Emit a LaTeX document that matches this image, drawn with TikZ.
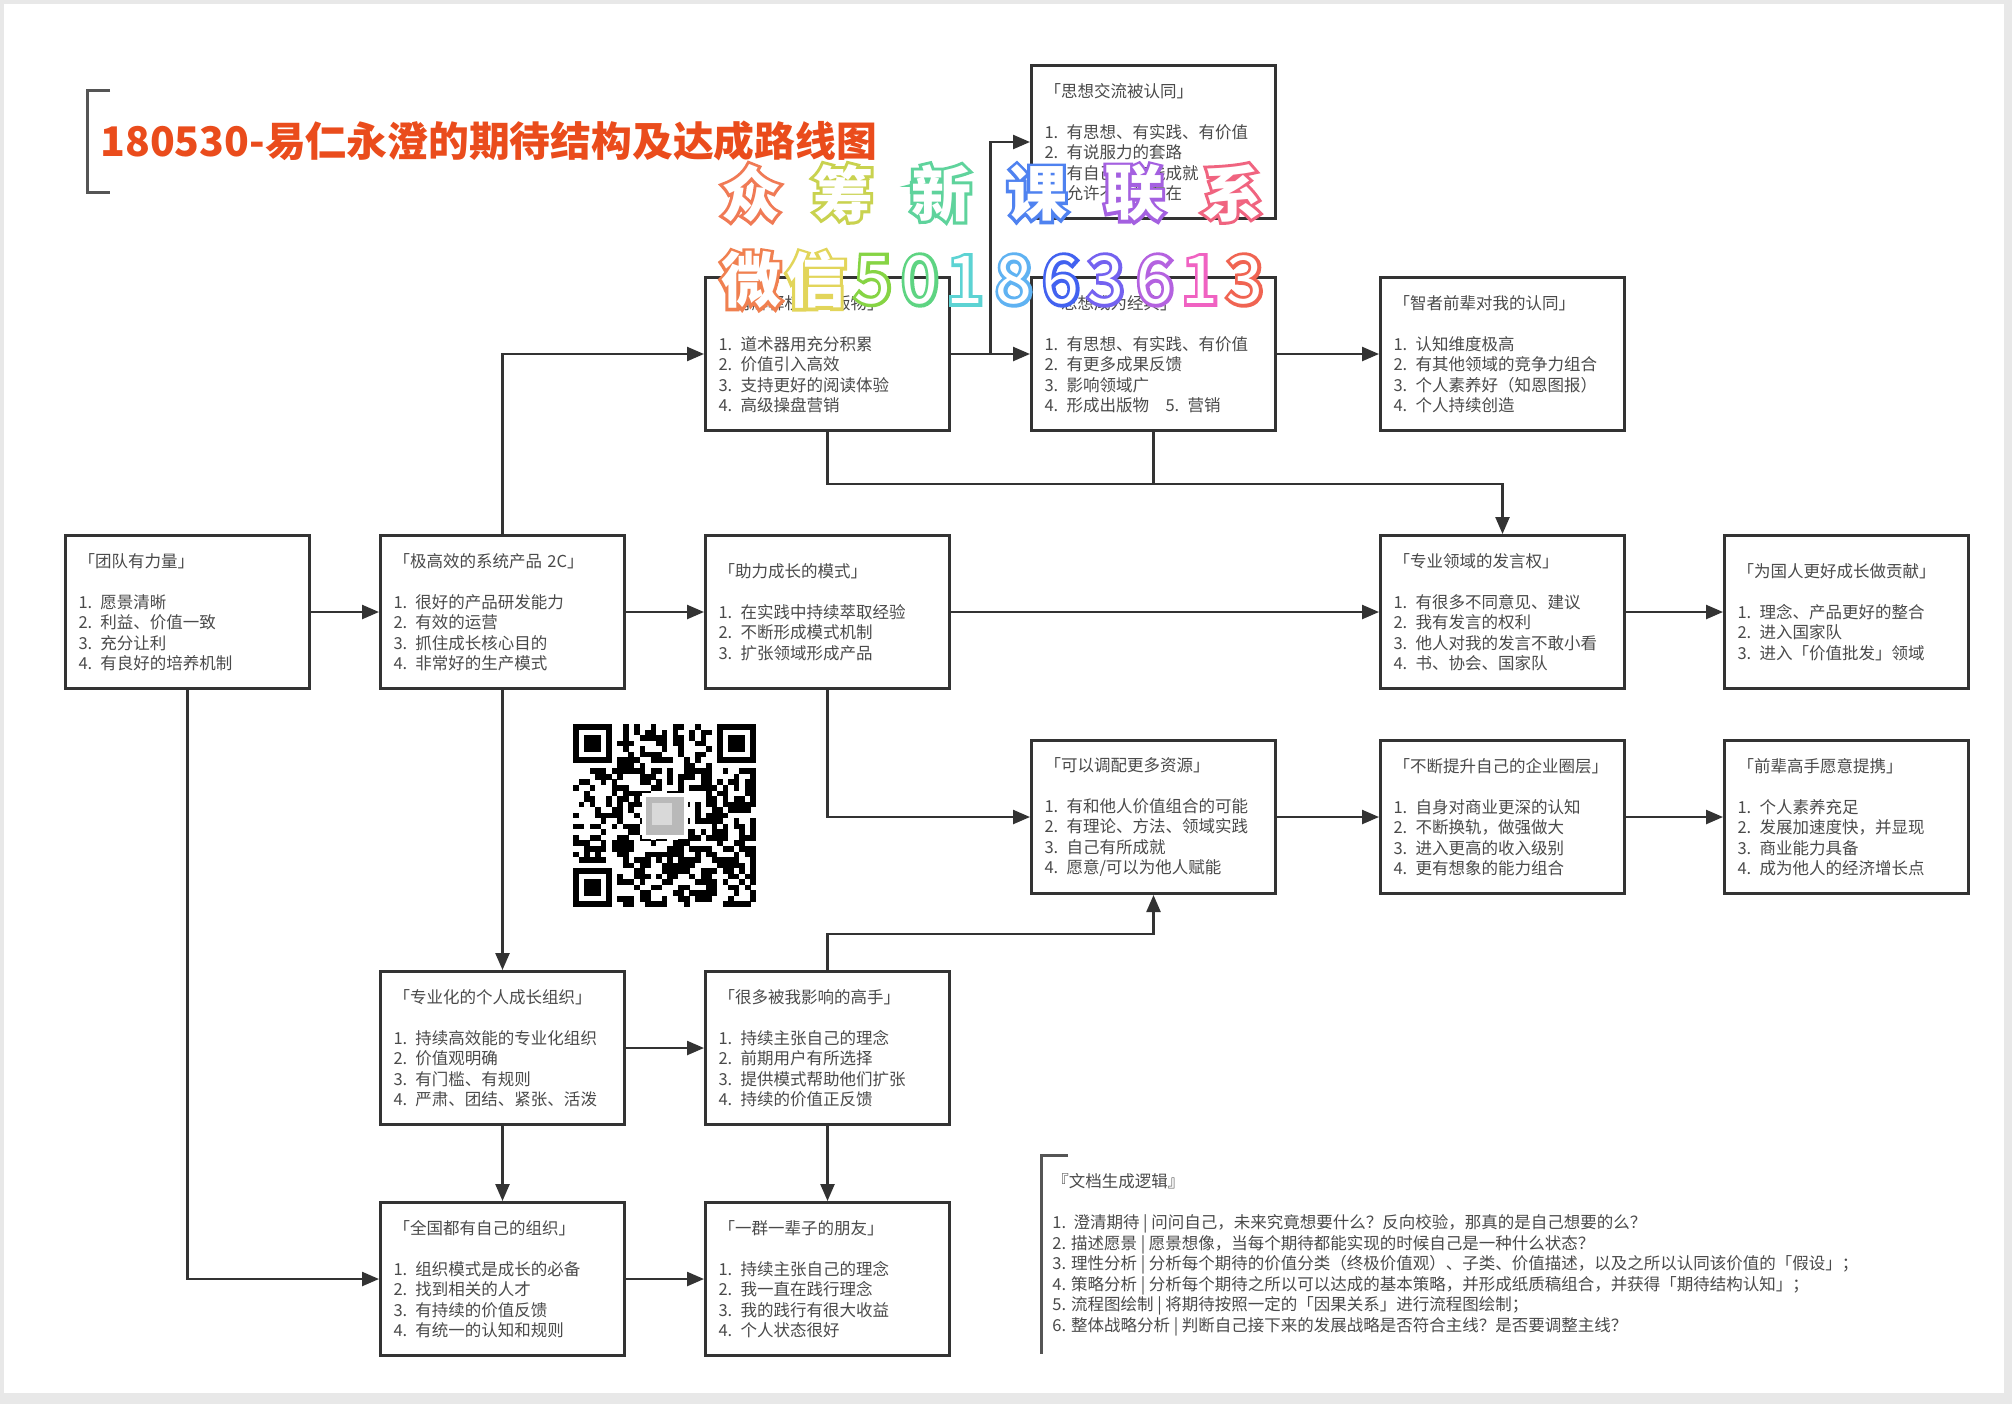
\documentclass[tikz,border=0pt]{standalone}
\usepackage{fontspec}
\newfontfamily\cjk{Noto Sans CJK SC}
\newfontfamily\wmfat{Noto Sans CJK SC}[FakeBold=10,BoldFeatures={FakeBold=10}]
\newfontfamily\wmthin{Noto Sans CJK SC}
\usetikzlibrary{arrows.meta,calc}
\definecolor{boxc}{HTML}{333333}
\definecolor{txtc}{HTML}{4A4A4A}
\definecolor{titlec}{RGB}{234,76,28}
\definecolor{brk}{HTML}{555555}
\definecolor{w1}{HTML}{F07A55}
\definecolor{w2}{HTML}{C9D24F}
\definecolor{w3}{HTML}{5FD39C}
\definecolor{w4}{HTML}{4F82F0}
\definecolor{w5}{HTML}{A460E0}
\definecolor{w6}{HTML}{F06480}
\definecolor{v1}{HTML}{F08050}
\definecolor{v2}{HTML}{E2D55A}
\definecolor{v3}{HTML}{86D444}
\definecolor{v4}{HTML}{5ED482}
\definecolor{v5}{HTML}{5CD3D3}
\definecolor{v6}{HTML}{5FB2F2}
\definecolor{v7}{HTML}{4262F0}
\definecolor{v8}{HTML}{7462F0}
\definecolor{v9}{HTML}{B462E0}
\definecolor{v10}{HTML}{F062C2}
\definecolor{v11}{HTML}{F06452}
\newcommand\olt[2]{\leavevmode\rlap{\wmfat\color{#1}#2}{\wmthin\color{white}#2}}
\tikzset{
  box/.style={draw=boxc, line width=1.5pt, minimum width=122pt, minimum height=76.5pt,
    inner xsep=6.5pt, inner ysep=0pt, text width=109pt, align=left, anchor=north west,
    font=\cjk\fontsize{8.25pt}{10.25pt}\selectfont, text=txtc},
  conn/.style={line width=1.2pt, draw=boxc, -{Triangle[length=8.5pt,width=7pt]}},
  plain/.style={line width=1.2pt, draw=boxc},
  brack/.style={line width=1.5pt, draw=brk},
  wm/.style={inner sep=0pt, font=\bfseries\fontsize{30pt}{32pt}\selectfont},
  wmd/.style={inner sep=0pt, font=\fontsize{33pt}{35pt}\selectfont}
}
\begin{document}
\begin{tikzpicture}[x=0.5pt,y=-0.5pt]
\useasboundingbox (0,0) rectangle (2012,1404);
\fill[gray!18] (0,0) rectangle (2012,1404);
\fill[white] (4,4) rectangle (2004,1393);

% title
\draw[brack] (110,90) -- (87,90) -- (87,192) -- (110,192);
\node[anchor=west, inner sep=0pt, text=titlec, font=\cjk\bfseries\fontsize{20.4pt}{24pt}\selectfont] (T) at (100,141) {180530-易仁永澄的期待结构及达成路线图};

% boxes
\node[box] (I) at (1030,64) {「思想交流被认同」\\[10.25pt]1. 有思想、有实践、有价值\\2. 有说服力的套路\\3. 有自己的实践成就\\4. 允许不同的存在};
\node[box] (F) at (704,276) {「有解释权的出版物」\\[10.25pt]1. 道术器用充分积累\\2. 价值引入高效\\3. 支持更好的阅读体验\\4. 高级操盘营销};
\node[box] (G) at (1030,276) {「思想成为经典」\\[10.25pt]1. 有思想、有实践、有价值\\2. 有更多成果反馈\\3. 影响领域广\\4. 形成出版物\quad 5. 营销};
\node[box] (H) at (1379,276) {「智者前辈对我的认同」\\[10.25pt]1. 认知维度极高\\2. 有其他领域的竞争力组合\\3. 个人素养好（知恩图报）\\4. 个人持续创造};
\node[box] (A) at (64,534) {「团队有力量」\\[10.25pt]1. 愿景清晰\\2. 利益、价值一致\\3. 充分让利\\4. 有良好的培养机制};
\node[box] (B) at (379,534) {「极高效的系统产品 2C」\\[10.25pt]1. 很好的产品研发能力\\2. 有效的运营\\3. 抓住成长核心目的\\4. 非常好的生产模式};
\node[box] (C) at (704,534) {「助力成长的模式」\\[10.25pt]1. 在实践中持续萃取经验\\2. 不断形成模式机制\\3. 扩张领域形成产品};
\node[box] (D) at (1379,534) {「专业领域的发言权」\\[10.25pt]1. 有很多不同意见、建议\\2. 我有发言的权利\\3. 他人对我的发言不敢小看\\4. 书、协会、国家队};
\node[box] (E) at (1723,534) {「为国人更好成长做贡献」\\[10.25pt]1. 理念、产品更好的整合\\2. 进入国家队\\3. 进入「价值批发」领域};
\node[box] (J) at (1030,739) {「可以调配更多资源」\\[10.25pt]1. 有和他人价值组合的可能\\2. 有理论、方法、领域实践\\3. 自己有所成就\\4. 愿意/可以为他人赋能};
\node[box] (K) at (1379,739) {「不断提升自己的企业圈层」\\[10.25pt]1. 自身对商业更深的认知\\2. 不断换轨，做强做大\\3. 进入更高的收入级别\\4. 更有想象的能力组合};
\node[box] (L) at (1723,739) {「前辈高手愿意提携」\\[10.25pt]1. 个人素养充足\\2. 发展加速度快，并显现\\3. 商业能力具备\\4. 成为他人的经济增长点};
\node[box] (M) at (379,970) {「专业化的个人成长组织」\\[10.25pt]1. 持续高效能的专业化组织\\2. 价值观明确\\3. 有门槛、有规则\\4. 严肃、团结、紧张、活泼};
\node[box] (N) at (704,970) {「很多被我影响的高手」\\[10.25pt]1. 持续主张自己的理念\\2. 前期用户有所选择\\3. 提供模式帮助他们扩张\\4. 持续的价值正反馈};
\node[box] (O) at (379,1201) {「全国都有自己的组织」\\[10.25pt]1. 组织模式是成长的必备\\2. 找到相关的人才\\3. 有持续的价值反馈\\4. 有统一的认知和规则};
\node[box] (P) at (704,1201) {「一群一辈子的朋友」\\[10.25pt]1. 持续主张自己的理念\\2. 我一直在践行理念\\3. 我的践行有很大收益\\4. 个人状态很好};

% connectors
\draw[conn] (A.east) -- (B.west);
\draw[conn] (B.east) -- (C.west);
\draw[conn] (C.east) -- (D.west);
\draw[conn] (D.east) -- (E.west);
\draw[conn] (B.north) |- (F.west);
\draw[conn] (F.east) -- (G.west);
\coordinate (br) at ($(F.east)!0.5!(G.west)$);
\draw[conn] (br) |- (I.west);
\draw[conn] (G.east) -- (H.west);
\coordinate (m1) at ($(F.south)+(0,52)$);
\draw[conn] (F.south) -- (m1) -| (D.north);
\draw[plain] (G.south) -- (G.south |- m1);
\draw[conn] (C.south) |- (J.west);
\draw[conn] (J.east) -- (K.west);
\draw[conn] (K.east) -- (L.west);
\coordinate (m2) at ($(N.north)+(0,-36)$);
\draw[conn] (N.north) -- (m2) -| (J.south);
\draw[conn] (B.south) -- (M.north);
\draw[conn] (M.east) -- (N.west);
\draw[conn] (M.south) -- (O.north);
\draw[conn] (N.south) -- (P.north);
\draw[conn] (A.south) |- (O.west);
\draw[conn] (O.east) -- (P.west);

% document logic
\draw[brack] (1068,1155) -- (1041,1155) -- (1041,1354);
\node[anchor=west, inner sep=0pt, align=left, text=txtc, font=\cjk\fontsize{8.25pt}{10.25pt}\selectfont] (logic) at (1052,1255) {『文档生成逻辑』\\[10.25pt]1.\ \ 澄清期待 | 问问自己，未来究竟想要什么？反向校验，那真的是自己想要的么？\\2. 描述愿景 | 愿景想像，当每个期待都能实现的时候自己是一种什么状态？\\3. 理性分析 | 分析每个期待的价值分类（终极价值观）、子类、价值描述，以及之所以认同该价值的「假设」；\\4. 策略分析 | 分析每个期待之所以可以达成的基本策略，并形成纸质稿组合，并获得「期待结构认知」；\\5. 流程图绘制 | 将期待按照一定的「因果关系」进行流程图绘制；\\6. 整体战略分析 | 判断自己接下来的发展战略是否符合主线？是否要调整主线？};

% QR code
\pgfmathsetseed{4242}
\foreach \i in {0,...,32}{\foreach \j in {0,...,32}{
  \pgfmathtruncatemacro\inf{(((\i<8)&&(\j<8))||((\i>24)&&(\j<8))||((\i<8)&&(\j>24)))?1:0}
  \ifnum\inf=0
    \pgfmathrandominteger{\rr}{0}{1}
    \ifnum\rr=1 \fill[black] (573+\i*5.545,724+\j*5.545) rectangle ++(5.6,5.6); \fi
  \fi
}}
\foreach \fx/\fy in {0/0,26/0,0/26}{
  \fill[black] (573+\fx*5.545,724+\fy*5.545) rectangle ++(38.8,38.8);
  \fill[white] (573+\fx*5.545+5.545,724+\fy*5.545+5.545) rectangle ++(27.7,27.7);
  \fill[black] (573+\fx*5.545+11.09,724+\fy*5.545+11.09) rectangle ++(16.6,16.6);
}
\fill[white] (642,793) rectangle (688,839);
\fill[gray!55] (646,797) rectangle (684,835);
\fill[gray!30] (652,803) rectangle (672,825);

% watermark
\node[wm] (wa) at (751,193) {\olt{w1}{众}};
\node[wm] (wb) at (843,193) {\olt{w2}{筹}};
\node[wm] (wc) at (941,193) {\olt{w3}{新}};
\node[wm] (wd) at (1037,193) {\olt{w4}{课}};
\node[wm] (we) at (1134,193) {\olt{w5}{联}};
\node[wm] (wf) at (1232,193) {\olt{w6}{系}};
\node[wm] (xa) at (751,280) {\olt{v1}{微}};
\node[wm] (xb) at (816,280) {\olt{v2}{信}};
\node[wmd] (xc) at (873,280) {\olt{v3}{5}};
\node[wmd] (xd) at (920,280) {\olt{v4}{0}};
\node[wmd] (xe) at (965,280) {\olt{v5}{1}};
\node[wmd] (xf) at (1014,280) {\olt{v6}{8}};
\node[wmd] (xg) at (1061,280) {\olt{v7}{6}};
\node[wmd] (xh) at (1106,280) {\olt{v8}{3}};
\node[wmd] (xi) at (1155,280) {\olt{v9}{6}};
\node[wmd] (xj) at (1200,280) {\olt{v10}{1}};
\node[wmd] (xk) at (1245,280) {\olt{v11}{3}};
\end{tikzpicture}
\end{document}
